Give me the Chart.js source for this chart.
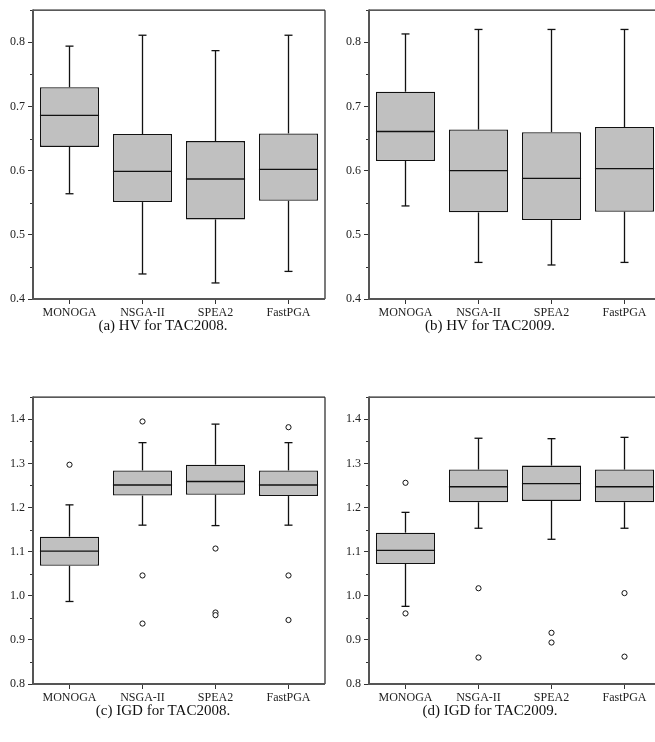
<!DOCTYPE html>
<html>
<head>
<meta charset="utf-8">
<script src="https://cdn.jsdelivr.net/npm/chart.js@4/dist/chart.umd.min.js"></script>
<style>
  html, body { margin: 0; padding: 0; background: #fff; overflow: hidden; width: 655px; height: 742px; }
  canvas { position: absolute; }
  .caption {
    position: absolute;
    font-family: 'Liberation Serif', 'Times New Roman', serif;
    font-size: 15px;
    word-spacing: 0px;
    color: #111;
    text-align: center;
    white-space: nowrap;
  }
</style>
</head>
<body>
<canvas id="hv2008" width="330" height="320" style="left:0px; top:0px;"></canvas>
<canvas id="hv2009" width="330" height="320" style="left:336px; top:0px;"></canvas>
<canvas id="igd2008" width="330" height="318" style="left:0px; top:387px;"></canvas>
<canvas id="igd2009" width="330" height="318" style="left:336px; top:387px;"></canvas>
<div class="caption" style="left:0px; top:317px; width:326px;">(a) HV for TAC2008.</div>
<div class="caption" style="left:325px; top:317px; width:330px;">(b) HV for TAC2009.</div>
<div class="caption" style="left:0px; top:702px; width:326px;">(c) IGD for TAC2008.</div>
<div class="caption" style="left:325px; top:702px; width:330px;">(d) IGD for TAC2009.</div>

<script>
const algorithms = ['MONOGA', 'NSGA-II', 'SPEA2', 'FastPGA'];

// y ranges (min, max) of the two kinds of panels
const hvRange = [0.4, 0.85];
const igdRange = [0.8, 1.45];

// (a) HV for TAC2008
const hv2008Low = [0.564, 0.439, 0.425, 0.443];
const hv2008Q1 = [0.637, 0.551, 0.524, 0.553];
const hv2008Median = [0.686, 0.599, 0.587, 0.602];
const hv2008Q3 = [0.730, 0.657, 0.646, 0.658];
const hv2008High = [0.794, 0.811, 0.787, 0.811];
const hv2008Outliers = [[], [], [], []];

// (b) HV for TAC2009
const hv2009Low = [0.545, 0.457, 0.453, 0.457];
const hv2009Q1 = [0.615, 0.535, 0.523, 0.536];
const hv2009Median = [0.661, 0.600, 0.588, 0.603];
const hv2009Q3 = [0.723, 0.664, 0.660, 0.668];
const hv2009High = [0.813, 0.820, 0.820, 0.820];
const hv2009Outliers = [[], [], [], []];

// (c) IGD for TAC2008
const igd2008Low = [0.987, 1.160, 1.159, 1.160];
const igd2008Q1 = [1.068, 1.227, 1.229, 1.226];
const igd2008Median = [1.101, 1.251, 1.259, 1.251];
const igd2008Q3 = [1.134, 1.284, 1.297, 1.284];
const igd2008High = [1.206, 1.347, 1.389, 1.347];
const igd2008Outliers = [[1.297], [1.395, 1.046, 0.937], [1.107, 0.962, 0.956], [1.382, 1.046, 0.945]];

// (d) IGD for TAC2009
const igd2009Low = [0.976, 1.153, 1.128, 1.153];
const igd2009Q1 = [1.072, 1.212, 1.215, 1.212];
const igd2009Median = [1.103, 1.247, 1.254, 1.247];
const igd2009Q3 = [1.143, 1.286, 1.295, 1.286];
const igd2009High = [1.189, 1.357, 1.356, 1.359];
const igd2009Outliers = [[1.256, 0.960], [1.017, 0.860], [0.916, 0.894], [1.006, 0.862]];

const isMajor = v => Math.abs(Math.round(v * 10) - v * 10) < 1e-6;

// draws medians, whiskers, minor ticks and the frame
const boxDetails = {
    id: 'boxDetails',
    afterDatasetsDraw(chart, args, opts) {
        const { ctx, chartArea: area, scales: { x, y } } = chart;
        const bars = chart.getDatasetMeta(0).data;
        const line = (x1, y1, x2, y2) => {
            ctx.beginPath();
            ctx.moveTo(x1, y1);
            ctx.lineTo(x2, y2);
            ctx.stroke();
        };
        ctx.save();
        ctx.strokeStyle = '#111';
        ctx.lineWidth = 1.3;
        opts.median.forEach((m, i) => {
            const bar = bars[i];
            const half = bar.width / 2;
            const cx = bar.x;
            const cap = 4;
            line(cx - half, y.getPixelForValue(m), cx + half, y.getPixelForValue(m));
            const yHigh = y.getPixelForValue(opts.high[i]);
            const yLow = y.getPixelForValue(opts.low[i]);
            line(cx, y.getPixelForValue(opts.q3[i]), cx, yHigh);
            line(cx - cap, yHigh, cx + cap, yHigh);
            line(cx, y.getPixelForValue(opts.q1[i]), cx, yLow);
            line(cx - cap, yLow, cx + cap, yLow);
        });

        // minor ticks on the y axis
        ctx.strokeStyle = '#333';
        ctx.lineWidth = 1;
        y.ticks.forEach(t => {
            if (!isMajor(t.value)) {
                const py = Math.round(y.getPixelForValue(t.value)) + 0.5;
                line(area.left - 3, py, area.left, py);
            }
        });

        // frame: thin top/right, heavier left/bottom
        ctx.strokeStyle = '#222';
        ctx.lineWidth = 1.2;
        line(area.left, area.top, area.right, area.top);
        line(area.right, area.top, area.right, area.bottom);
        ctx.strokeStyle = '#555';
        ctx.lineWidth = 2;
        line(area.left, area.top - 0.6, area.left, area.bottom + 1);
        line(area.left - 1, area.bottom, area.right, area.bottom);
        ctx.restore();
    }
};

function makeBoxChart(canvasId, low, q1, median, q3, high, outliers, range) {
    const ctx = document.getElementById(canvasId).getContext('2d');
    const outlierPoints = [];
    outliers.forEach((list, i) => {
        list.forEach(v => outlierPoints.push({ x: algorithms[i], y: v }));
    });

    new Chart(ctx, {
        type: 'bar',
        data: {
            labels: algorithms,
            datasets: [{
                data: q1.map((v, i) => [v, q3[i]]),
                backgroundColor: '#c0c0c0',
                borderColor: '#111',
                borderWidth: 1.3,
                borderSkipped: false,
                barPercentage: 0.81,
                categoryPercentage: 1.0
            }, {
                type: 'line',
                data: outlierPoints,
                showLine: false,
                pointRadius: 2.6,
                pointBorderWidth: 1,
                pointBorderColor: '#111',
                pointBackgroundColor: '#fff'
            }]
        },
        options: {
            responsive: false,
            animation: false,
            devicePixelRatio: 1,
            layout: { padding: { top: 7, right: 5, left: 0, bottom: 0 } },
            plugins: {
                legend: { display: false },
                tooltip: { enabled: false },
                boxDetails: { low, q1, median, q3, high }
            },
            scales: {
                x: {
                    offset: true,
                    border: { display: false },
                    grid: {
                        offset: false,
                        drawOnChartArea: false,
                        tickLength: 5,
                        tickColor: '#333'
                    },
                    ticks: {
                        padding: 2,
                        color: '#222',
                        font: { family: "'Liberation Serif', serif", size: 12 }
                    },
                    afterFit: scale => { scale.height = 21; }
                },
                y: {
                    min: range[0],
                    max: range[1],
                    border: { display: false },
                    grid: {
                        drawOnChartArea: false,
                        tickLength: 5,
                        tickColor: c => isMajor(c.tick.value) ? '#333' : 'rgba(0,0,0,0)'
                    },
                    ticks: {
                        stepSize: 0.05,
                        padding: 3,
                        color: '#222',
                        font: { family: "'Liberation Serif', serif", size: 12 },
                        callback: v => isMajor(v) ? v.toFixed(1) : ''
                    },
                    afterFit: scale => { scale.width = 33; }
                }
            }
        },
        plugins: [boxDetails]
    });
}

makeBoxChart('hv2008', hv2008Low, hv2008Q1, hv2008Median, hv2008Q3, hv2008High, hv2008Outliers, hvRange);
makeBoxChart('hv2009', hv2009Low, hv2009Q1, hv2009Median, hv2009Q3, hv2009High, hv2009Outliers, hvRange);
makeBoxChart('igd2008', igd2008Low, igd2008Q1, igd2008Median, igd2008Q3, igd2008High, igd2008Outliers, igdRange);
makeBoxChart('igd2009', igd2009Low, igd2009Q1, igd2009Median, igd2009Q3, igd2009High, igd2009Outliers, igdRange);
</script>
</body>
</html>
